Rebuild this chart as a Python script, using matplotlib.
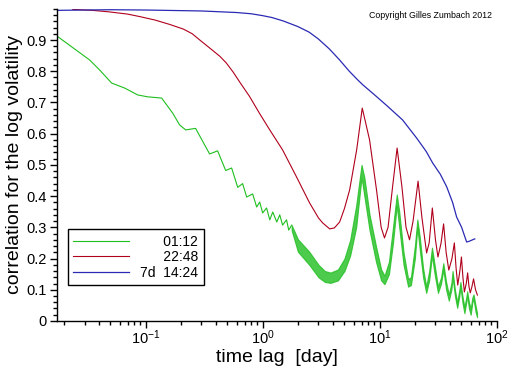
import matplotlib
matplotlib.use('Agg')
import matplotlib.pyplot as plt
from matplotlib.ticker import MultipleLocator

plt.rcParams['font.family'] = ['Liberation Sans', 'DejaVu Sans']
plt.rcParams['mathtext.fontset'] = 'custom'
plt.rcParams['mathtext.rm'] = 'Liberation Sans'
plt.rcParams['mathtext.it'] = 'Liberation Sans'

# lag in days, correlation
blue_days = [0.0174, 0.05, 0.1, 0.3, 0.6, 0.8, 1.0, 1.2, 1.5, 2.0, 2.5, 3.0, 3.7,
             4.5, 5.5, 6.5, 7.2, 9.0, 11.5, 15.7, 20.7, 25.0, 28.4, 33.0, 37.4,
             42.0, 45.5, 50.2, 55.4, 58.0, 65.0]
blue_vals = [0.995, 0.997, 0.996, 0.993, 0.988, 0.984, 0.978, 0.972, 0.961, 0.943,
             0.925, 0.903, 0.872, 0.838, 0.80, 0.772, 0.756, 0.725, 0.69, 0.644,
             0.586, 0.543, 0.506, 0.47, 0.43, 0.38, 0.333, 0.30, 0.253, 0.255, 0.263]

red_days = [0.0238, 0.035, 0.049, 0.07, 0.089, 0.12, 0.16, 0.21, 0.25, 0.29, 0.37,
            0.43, 0.49, 0.56, 0.64, 0.77, 0.94, 1.15, 1.48, 1.95, 2.52, 3.0, 3.26,
            3.74, 4.1, 4.55, 5.0, 5.54, 6.36, 7.1, 8.2, 9.4, 10.3, 11.0, 11.8, 12.9,
            14.1, 15.5, 16.8, 18.0, 19.3, 21.3, 23.0, 25.2, 26.5, 28.2, 30.0, 31.5,
            33.5, 35.2, 37.0, 39.0, 41.5, 43.5, 45.0, 46.5, 48.5, 50.0, 51.5, 53.0,
            55.0, 56.5, 58.0, 59.5, 61.5, 63.5, 66.0, 68.5]
red_vals = [0.998, 0.995, 0.99, 0.983, 0.975, 0.964, 0.95, 0.935, 0.92, 0.90, 0.868,
            0.848, 0.826, 0.797, 0.764, 0.72, 0.665, 0.612, 0.548, 0.461, 0.378, 0.33,
            0.314, 0.295, 0.298, 0.317, 0.36, 0.42, 0.548, 0.682, 0.58, 0.42, 0.30,
            0.266, 0.30, 0.43, 0.554, 0.43, 0.30, 0.26, 0.32, 0.448, 0.33, 0.218, 0.25,
            0.362, 0.26, 0.205, 0.25, 0.311, 0.22, 0.163, 0.20, 0.25, 0.17, 0.115,
            0.16, 0.205, 0.14, 0.093, 0.12, 0.154, 0.11, 0.09, 0.11, 0.135, 0.10, 0.083]

# green, short lags (single line with the intraday teeth)
green_days = [0.0174, 0.0332, 0.0404, 0.0512, 0.0662, 0.0855, 0.104, 0.137, 0.170,
              0.195, 0.22, 0.267, 0.352, 0.412, 0.483, 0.543, 0.612, 0.674, 0.730,
              0.821, 0.889, 0.943, 1.0, 1.08, 1.15, 1.22, 1.32, 1.40, 1.48, 1.60,
              1.67, 1.77]
green_vals = [0.913, 0.836, 0.804, 0.762, 0.746, 0.724, 0.718, 0.714, 0.666,
              0.628, 0.612, 0.617, 0.535, 0.545, 0.482, 0.49, 0.428, 0.44, 0.397,
              0.407, 0.365, 0.381, 0.346, 0.362, 0.324, 0.349, 0.317, 0.34, 0.307,
              0.324, 0.291, 0.307]

# green, longer lags: the teeth merge into a band (lower / upper edge)
band_days = [1.77, 2.0, 2.5, 3.0, 3.4, 3.8, 4.4, 5.0, 5.6, 6.3, 7.0, 7.4, 8.2, 9.3,
             10.3, 11.0, 12.0, 13.0, 14.0, 14.7, 16.0, 17.5, 18.5, 20.0, 21.0, 22.0,
             23.5, 25.0, 26.5, 28.0, 29.5, 31.5, 33.5, 35.0, 37.0, 39.0, 41.0, 42.0,
             44.0, 46.0, 48.0, 49.0, 51.0, 53.0, 55.0, 56.0, 58.0, 60.0, 62.0, 63.5,
             66.0, 68.0]
band_lo = [0.29, 0.222, 0.18, 0.14, 0.125, 0.122, 0.13, 0.16, 0.21, 0.30, 0.46, 0.40,
           0.29, 0.19, 0.13, 0.118, 0.15, 0.25, 0.37, 0.30, 0.18, 0.11, 0.115, 0.20,
           0.30, 0.23, 0.14, 0.09, 0.13, 0.21, 0.15, 0.09, 0.12, 0.165, 0.10, 0.065,
           0.10, 0.14, 0.08, 0.042, 0.08, 0.11, 0.06, 0.025, 0.06, 0.08, 0.04, 0.02,
           0.06, 0.07, 0.03, 0.012]
band_hi = [0.307, 0.262, 0.222, 0.18, 0.16, 0.155, 0.165, 0.20, 0.26, 0.37, 0.50, 0.46,
           0.34, 0.24, 0.165, 0.145, 0.19, 0.30, 0.405, 0.35, 0.22, 0.135, 0.14, 0.24,
           0.325, 0.27, 0.17, 0.11, 0.16, 0.235, 0.18, 0.11, 0.14, 0.185, 0.125, 0.085,
           0.12, 0.16, 0.10, 0.06, 0.10, 0.125, 0.08, 0.045, 0.075, 0.095, 0.06, 0.04,
           0.075, 0.085, 0.05, 0.025]

labels = ['\u2007\u2007\u200701:12', '\u2007\u2007\u200722:48', '7d  14:24']
ytick_vals = [0, 0.1, 0.2, 0.3, 0.4, 0.5, 0.6, 0.7, 0.8, 0.9]
ytick_labels = ['0', '0.1', '0.2', '0.3', '0.4', '0.5', '0.6', '0.7', '0.8', '0.9']

green = '#1fbf1f'
red = '#b0001c'
blue = '#2a2ab4'

fig = plt.figure(figsize=(5.12, 3.66), dpi=100)
ax = fig.add_axes([0.111, 0.123, 0.859, 0.853])

ax.plot(green_days, green_vals, color=green, lw=0.8, label=labels[0])
ax.fill_between(band_days, band_lo, band_hi, color=green, alpha=0.8, lw=0.8,
                edgecolor=green)
ax.plot(red_days, red_vals, color=red, lw=0.8, label=labels[1])
ax.plot(blue_days, blue_vals, color=blue, lw=0.9, label=labels[2])

ax.set_xscale('log')
ax.set_xlim(0.0174, 100)
ax.set_ylim(0, 1.0)
ax.set_yticks(ytick_vals)
ax.set_yticklabels(ytick_labels)
ax.yaxis.set_minor_locator(MultipleLocator(0.02))

for side in ['top', 'right']:
    ax.spines[side].set_visible(False)
for side in ['left', 'bottom']:
    ax.spines[side].set_linewidth(1)
ax.tick_params(which='major', length=5, width=1, direction='out', labelsize=10.5, pad=2)
ax.tick_params(which='minor', length=3, width=1, direction='out')
ax.tick_params(axis='x', which='major', pad=0)

ax.set_xlabel('time lag  [day]', fontsize=14, va='center')
ax.xaxis.set_label_coords(0.5, -0.117)
ax.set_ylabel('correlation for the log volatility', fontsize=14, labelpad=3)

leg = ax.legend(loc='lower left', bbox_to_anchor=(0.025, 0.115), borderaxespad=0,
                fontsize=10, handlelength=4.0, handletextpad=0.8, labelspacing=0.1,
                fancybox=False, framealpha=1, edgecolor='black', borderpad=0.4)
leg.get_frame().set_linewidth(1)

fig.text(0.961, 0.958, 'Copyright Gilles Zumbach 2012', fontsize=6.3, ha='right',
         va='center')

fig.savefig('out.png', dpi=100)
